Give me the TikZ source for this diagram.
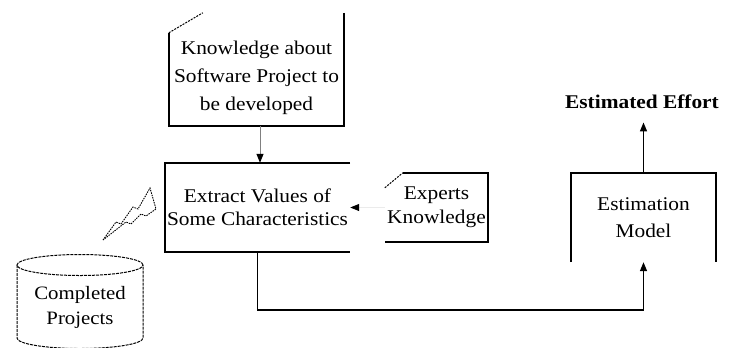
\documentclass[tikz,border=0pt]{standalone}
\usepackage{fontspec}
\setmainfont{Liberation Serif}[FakeStretch=1.1]
\usetikzlibrary{arrows.meta,calc}
\begin{document}
\begin{tikzpicture}[x=1bp,y=-1bp,
  edge/.style={line width=1.5bp, black},
  chamfer/.style={line width=1bp, dash pattern=on 2bp off 1.2bp},
  cyl/.style={line width=1bp, dash pattern=on 3bp off 1bp},
  area/.style={draw=none, inner sep=0pt},
  lbl/.style={align=center},
  tip/.style={-{Triangle[length=9bp,width=7bp]}}
]
\clip (0,0) rectangle (737,347);
\fill[white] (0,0) rectangle (737,347);

% boxes and their texts
\node[area, minimum width=175bp, minimum height=113bp] (know) at (256.5,69.5) {};
\node[lbl, font=\fontsize{19.5}{28}\selectfont] (knowtext) at (256.5,78)
  {Knowledge about\\Software Project to\\be developed};

\node[area, lbl, minimum width=185bp, minimum height=89bp,
      font=\fontsize{19.5}{23}\selectfont] (extract) at (257.5,207.5)
  {Extract Values of\\Some Characteristics};

\node[area, lbl, minimum width=103bp, minimum height=69bp,
      font=\fontsize{19.5}{24}\selectfont] (experts) at (436.5,207.5)
  {Experts\\Knowledge};

\node[area, lbl, minimum width=145bp, minimum height=89bp,
      font=\fontsize{19.5}{27}\selectfont] (est) at (643.5,217.5)
  {Estimation\\Model};

\node[lbl, font=\fontsize{19.5}{24}\selectfont\bfseries] (effort) at (642,102)
  {Estimated Effort};

\node[area, lbl, font=\fontsize{19}{25}\selectfont] (db) at (80,307)
  {Completed\\Projects};

% outlines
\draw[edge] (know.north east) -- (know.south east) -- (know.south west)
  -- ($(know.north west)+(0,20)$);
\draw[chamfer] ($(know.north west)+(0,20)$) -- ($(know.north west)+(34,0)$);

\draw[edge] (extract.north east) -- (extract.north west)
  -- (extract.south west) -- (extract.south east);

\draw[edge] ($(experts.north west)+(18,0)$) -- (experts.north east)
  -- (experts.south east) -- (experts.south west);
\draw[chamfer] ($(experts.north west)+(0,15)$) -- ($(experts.north west)+(18,0)$);

\draw[edge] (est.south west) -- (est.north west) -- (est.north east) -- (est.south east);

% database cylinder
\draw[cyl] (80,265) ellipse [x radius=63bp, y radius=10.5bp];
\draw[cyl] (17,265) -- (17,338) arc[start angle=180, end angle=360,
  x radius=63bp, y radius=10.5bp] -- (143,265);

% lightning bolt
\draw[line width=0.9bp, dash pattern=on 1.5bp off 1bp]
  (103,240) -- (116,222) -- (121,224) -- (133,207) -- (138,209) -- (150,188)
  -- (156,209) -- (146,216) -- (141,214) -- (131,224) -- (126,222) -- cycle;

% connectors
\draw[gray, line width=1bp, -{Triangle[black,length=9bp,width=7bp]}]
  ([xshift=3.5bp]know.south) -- ([xshift=3.5bp]know.south |- extract.north);
\draw[black!8, line width=1bp, -{Triangle[black,length=9bp,width=7bp]}]
  (experts.west) -- (extract.east);
\draw[edge, tip] (extract.south) -- ++(0,58) -| (est.south);
\draw[edge, tip, shorten >=10bp] (est.north) -- (est.north |- effort.south);
\end{tikzpicture}
\end{document}
